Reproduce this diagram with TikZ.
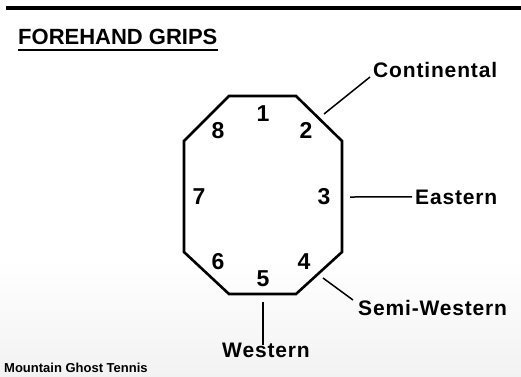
\documentclass[tikz,border=0pt]{standalone}
\usepackage{fontspec}
\setmainfont{Liberation Sans}
\newfontfamily\labelfont[LetterSpace=4]{Liberation Sans}
\begin{document}
\begin{tikzpicture}[x=1pt,y=-1pt,
  edge/.style={line width=2.6pt,line join=miter},
  leader/.style={line width=1.5pt},
  gripnum/.style={font=\fontsize{23}{23}\selectfont\bfseries,inner sep=0pt},
  griplabel/.style={font=\labelfont\fontsize{21}{21}\selectfont\bfseries,inner sep=0pt,anchor=base west},
  heading/.style={font=\fontsize{22}{22}\selectfont\bfseries,inner sep=0pt,anchor=base west},
  credit/.style={font=\fontsize{13}{13}\selectfont\bfseries,inner sep=0pt,anchor=base west}]
  \useasboundingbox (0,0) rectangle (521,376);
  % background, fading slightly towards the bottom
  \fill[white] (0,0) rectangle (521,376);
  \shade[top color=white,bottom color=black!5] (0,260) rectangle (521,376);
  % top rule
  \fill[black] (6,6) rectangle (521,10);
  % heading
  \node[heading] (title) at (18,44) {FOREHAND GRIPS};
  \draw[line width=2pt] (title.base west)++(0,6) -- ++(200,0);
  % octagon (racquet handle cross-section)
  \coordinate (v1) at (229,96);
  \coordinate (v2) at (296,96);
  \coordinate (v3) at (342,141);
  \coordinate (v4) at (342,252);
  \coordinate (v5) at (296,294);
  \coordinate (v6) at (229,294);
  \coordinate (v7) at (184,252);
  \coordinate (v8) at (184,141);
  \draw[edge] (v1) -- (v2) -- (v3) -- (v4) -- (v5) -- (v6) -- (v7) -- (v8) -- cycle;
  % bevel numbers
  \node[gripnum] (n1) at (263,114) {1};
  \node[gripnum] (n2) at (306,130) {2};
  \node[gripnum] (n3) at (324,197) {3};
  \node[gripnum] (n4) at (304,262) {4};
  \node[gripnum] (n5) at (263,279) {5};
  \node[gripnum] (n6) at (218,262) {6};
  \node[gripnum] (n7) at (199,197) {7};
  \node[gripnum] (n8) at (218,131) {8};
  % grip names
  \node[griplabel] (cont) at (373,77) {Continental};
  \node[griplabel] (east) at (415,204) {Eastern};
  \node[griplabel] (semi) at (358,315) {Semi-Western};
  \node[griplabel,anchor=base] (west) at (266,357) {Western};
  % leader lines
  \coordinate (c2) at (324,114);
  \coordinate (c3) at (350,197);
  \coordinate (c4) at (323,278);
  \coordinate (c5) at (263,302);
  \coordinate (w5) at (263,345);
  \draw[leader] (c2) -- ([xshift=-3pt]cont.base west);
  \draw[leader] (c3) -- ([xshift=-3pt]east.west);
  \draw[leader] (c4) -- ([xshift=-5pt,yshift=15pt]semi.base west);
  \draw[leader] (c5) -- (w5);
  % credit
  \node[credit] (credit) at (4,372) {Mountain Ghost Tennis};
\end{tikzpicture}
\end{document}
